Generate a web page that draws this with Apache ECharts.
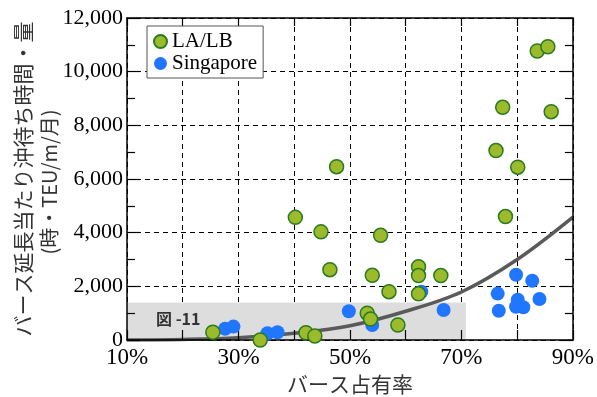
<!DOCTYPE html>
<html>
<head>
<meta charset="utf-8">
<script src="https://cdn.jsdelivr.net/npm/echarts@6/dist/echarts.min.js"></script>
<style>
html,body{margin:0;padding:0;background:#fff;}
#chart{width:597px;height:397px;}
</style>
</head>
<body>
<div id="chart"></div>
<script>
// ---- data ----
var laX = [25.4, 33.9, 42.1, 43.7, 53.1, 53.7, 57.0, 47.6, 40.2, 44.8, 55.5, 46.4, 54.0, 62.3, 62.3, 66.3, 62.3, 58.6, 83.6, 85.5, 77.4, 86.1, 76.2, 80.1, 77.9];
var laY = [290, 0, 270, 150, 1000, 780, 1800, 6460, 4570, 4030, 3900, 2620, 2410, 2730, 2400, 2400, 1720, 560, 10770, 10930, 8670, 8510, 7060, 6440, 4600];
var sgX = [27.6, 29.1, 35.2, 37.0, 49.8, 54.0, 62.8, 66.8, 79.8, 82.7, 76.5, 80.1, 84.0, 76.7, 79.8, 81.1];
var sgY = [420, 500, 250, 290, 1070, 560, 1800, 1120, 2430, 2210, 1730, 1500, 1530, 1090, 1240, 1220];
var curveX = [10, 20, 30, 40, 50, 60, 70, 80, 90];
var curveY = [0, 20, 85, 250, 530, 1070, 1790, 3000, 4580];
var xTicks = [10, 30, 50, 70, 90];
var boxX = [10, 70.8];
var boxY = [0, 1400];
var seriesNames = ['LA/LB', 'Singapore'];
var yNameLines = ['バース延長当たり沖待ち時間・量', '(時・TEU/m/月)'];
var xName = 'バース占有率';
var boxLabel = '図 -11';

function pairs(xs, ys){ return xs.map(function(x,i){ return [x, ys[i]]; }); }

var serif = 'Liberation Serif';
var jp = 'Noto Sans CJK JP';

var chart = echarts.init(document.getElementById('chart'));
var option = {
  animation: false,
  backgroundColor: '#fff',
  grid: {left: 127, right: 24, top: 18, bottom: 57, containLabel: false},
  legend: {
    data: [seriesNames[0], seriesNames[1]],
    orient: 'vertical',
    left: 147, top: 26,
    padding: [5, 6, 4, 6],
    itemGap: 1,
    itemWidth: 13, itemHeight: 13,
    icon: 'circle',
    backgroundColor: '#fff',
    borderColor: '#555',
    borderWidth: 1,
    borderRadius: 0,
    textStyle: {fontFamily: serif, fontSize: 21, color: '#000'}
  },
  graphic: [
    {type: 'text', z: 100, x: 23, y: 179, rotation: Math.PI / 2,
     style: {text: yNameLines[0], fontFamily: jp, fontSize: 21, fill: '#333', textAlign: 'center', textVerticalAlign: 'middle'}},
    {type: 'text', z: 100, x: 49, y: 182, rotation: Math.PI / 2,
     style: {text: yNameLines[1], fontFamily: jp, fontSize: 20, fill: '#333', textAlign: 'center', textVerticalAlign: 'middle'}},
    {type: 'text', z: 100, x: 350, y: 384,
     style: {text: xName, fontFamily: jp, fontSize: 21, fill: '#333', textAlign: 'center', textVerticalAlign: 'middle'}},
    {type: 'text', z: 100, x: 156, y: 319,
     style: {text: boxLabel, fontFamily: jp, fontWeight: 'bold', fontSize: 16, fill: '#333', textAlign: 'left', textVerticalAlign: 'middle'}}
  ],
  xAxis: [
    {type: 'value', min: 10, max: 90, interval: 10, position: 'bottom', z: 2,
     axisLine: {show: true, onZero: false, lineStyle: {color: '#000', width: 1.5}},
     axisTick: {show: true, inside: true, length: 10, lineStyle: {color: '#000', width: 1.2}},
     axisLabel: {show: true, margin: 6, fontFamily: serif, fontSize: 23, color: '#000',
       formatter: function(v){ return xTicks.indexOf(v) >= 0 ? v + '%' : ''; }},
     splitLine: {show: false}},
    {type: 'value', min: 10, max: 90, interval: 10, position: 'top', z: 2,
     axisLine: {show: true, onZero: false, lineStyle: {color: '#000', width: 1.5}},
     axisTick: {show: true, inside: true, length: 8, lineStyle: {color: '#000', width: 1.2}},
     axisLabel: {show: false}, splitLine: {show: false}},
    {type: 'value', min: 10, max: 90, interval: 10, position: 'bottom', z: 0,
     axisLine: {show: false}, axisTick: {show: false}, axisLabel: {show: false},
     splitLine: {show: true, lineStyle: {color: '#000', width: 1, type: [5, 4]}}}
  ],
  yAxis: [
    {type: 'value', min: 0, max: 12000, interval: 2000, position: 'left', z: 2,
     axisLine: {show: true, onZero: false, lineStyle: {color: '#000', width: 1.5}},
     axisTick: {show: true, inside: true, length: 13, lineStyle: {color: '#000', width: 1.2}},
     minorTick: {show: true, splitNumber: 2, length: 8, lineStyle: {color: '#000', width: 1.2}},
     axisLabel: {show: true, margin: 4, fontFamily: serif, fontSize: 22, color: '#000'},
     splitLine: {show: false}},
    {type: 'value', min: 0, max: 12000, interval: 2000, position: 'right', z: 2,
     axisLine: {show: true, onZero: false, lineStyle: {color: '#000', width: 1.5}},
     axisTick: {show: true, inside: true, length: 13, lineStyle: {color: '#000', width: 1.2}},
     minorTick: {show: true, splitNumber: 2, length: 8, lineStyle: {color: '#000', width: 1.2}},
     axisLabel: {show: false}, splitLine: {show: false}},
    {type: 'value', min: 0, max: 12000, interval: 2000, position: 'left', z: 0,
     axisLine: {show: false}, axisTick: {show: false}, axisLabel: {show: false},
     splitLine: {show: true, lineStyle: {color: '#000', width: 1, type: [5, 4]}}}
  ],
  series: [
    {name: 'curve', type: 'line', z: 1, xAxisIndex: 0, yAxisIndex: 0,
     data: pairs(curveX, curveY), smooth: 0.35, showSymbol: false, symbol: 'none',
     lineStyle: {color: '#5a5a5a', width: 3.5}, silent: true,
     markArea: {silent: true,
       itemStyle: {color: '#dcdddc'},
       label: {show: false},
       data: [[{xAxis: boxX[0], yAxis: boxY[0]}, {xAxis: boxX[1], yAxis: boxY[1]}]]}},
    {name: seriesNames[1], type: 'scatter', z: 3, xAxisIndex: 0, yAxisIndex: 0,
     data: pairs(sgX, sgY), symbol: 'circle', symbolSize: 14,
     itemStyle: {color: '#2176ff', opacity: 1}},
    {name: seriesNames[0], type: 'scatter', z: 4, xAxisIndex: 0, yAxisIndex: 0,
     data: pairs(laX, laY), symbol: 'circle', symbolSize: 14,
     itemStyle: {color: '#9cbb2c', borderColor: '#2a7a1e', borderWidth: 1.5, opacity: 1}}
  ]
};
chart.setOption(option);
</script>
</body>
</html>
